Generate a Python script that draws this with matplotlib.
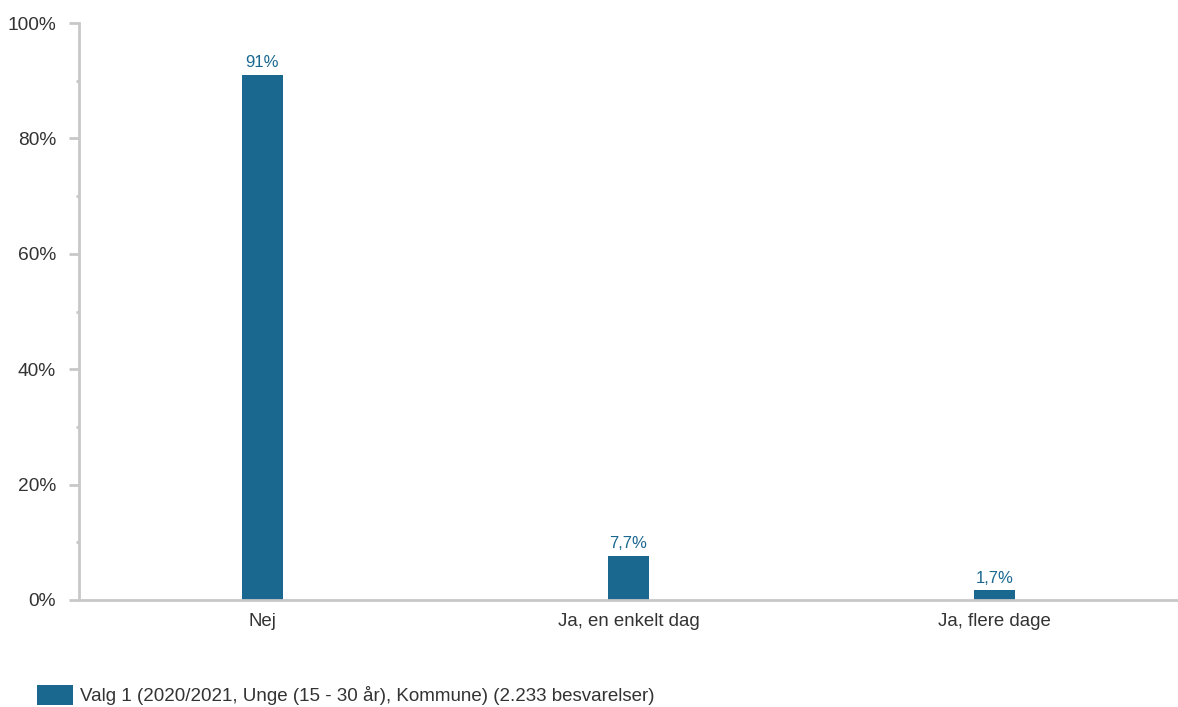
import numpy as np
import matplotlib.pyplot as plt
from matplotlib.ticker import MultipleLocator, FuncFormatter

plt.rcParams['font.family'] = ['Liberation Sans', 'DejaVu Sans']

categories = ['Nej', 'Ja, en enkelt dag', 'Ja, flere dage']
values = [91, 7.7, 1.7]
value_labels = ['91%', '7,7%', '1,7%']
series_name = 'Valg 1 (2020/2021, Unge (15 - 30 år), Kommune) (2.233 besvarelser)'

bar_color = '#1a6890'
grey = '#c8c8c8'
text_color = '#333333'

fig = plt.figure(figsize=(11.78, 7.07), dpi=100)
ax = fig.add_axes([79/1178, 107/707, 1 - 79/1178, (600-23)/707])

x = np.arange(len(categories))
bars = ax.bar(x, values, width=0.112, color=bar_color, label=series_name, zorder=2)
for b, lab in zip(bars, value_labels):
    ax.text(b.get_x() + b.get_width()/2, b.get_height() + 0.8, lab,
            ha='center', va='bottom', fontsize=12, color=bar_color)

ax.set_xlim(-0.5, 2.5)
ax.set_ylim(0, 100)
ax.set_xticks(x)
ax.set_xticklabels(categories, fontsize=13.4, color=text_color)
ax.tick_params(axis='x', length=0, pad=9)

ax.yaxis.set_major_locator(MultipleLocator(20))
ax.yaxis.set_minor_locator(MultipleLocator(10))
ax.yaxis.set_major_formatter(FuncFormatter(lambda v, p: f'{v:.0f}%'))
ax.tick_params(axis='y', which='major', length=7.5, width=2, color=grey,
               labelsize=13.8, labelcolor=text_color, pad=9)
ax.tick_params(axis='y', which='minor', length=2.5, width=2, color=grey)

for s in ['top', 'right']:
    ax.spines[s].set_visible(False)
for s in ['left', 'bottom']:
    ax.spines[s].set_color(grey)
    ax.spines[s].set_linewidth(2)

fig.legend(handles=[bars], labels=[series_name], loc='center left',
           bbox_to_anchor=(37/1178, 1 - 695/707), frameon=False,
           borderpad=0, borderaxespad=0, handlelength=1.9, handleheight=1.25,
           handletextpad=0.4, fontsize=13.5, labelcolor=text_color)

fig.savefig('out.png', dpi=100)
